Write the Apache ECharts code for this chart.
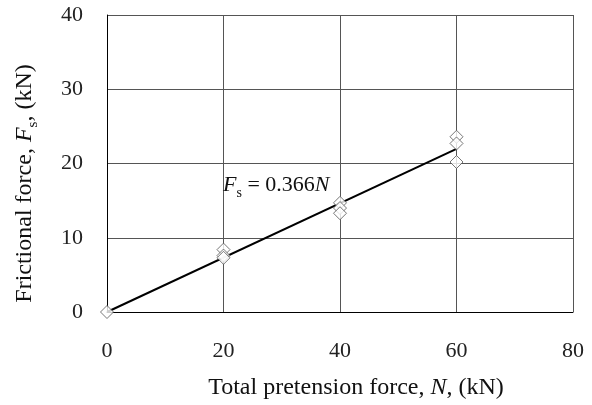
<!DOCTYPE html>
<html>
<head>
<meta charset="utf-8">
<script src="https://cdn.jsdelivr.net/npm/echarts@6/dist/echarts.min.js"></script>
<style>
html, body { margin: 0; padding: 0; background: #fff; }
#chart { width: 592px; height: 405px; }
</style>
</head>
<body>
<div id="chart"></div>
<script>
// measured points (pretension N, friction Fs), kN
var pretension = [0, 20, 20, 20, 40, 40, 40, 60, 60, 60];
var friction = [0, 8.4, 7.6, 7.3, 14.7, 14.0, 13.3, 23.6, 22.7, 20.2];
// fitted line Fs = 0.366 N
var slope = 0.366;
var fitX = [0, 60];
var xTicks = [0, 20, 40, 60, 80];
var yTicks = [0, 10, 20, 30, 40];

var serif = '"Liberation Serif", "DejaVu Serif", serif';

var chart = echarts.init(document.getElementById('chart'));
var option = {
    animation: false,
    grid: {
        left: 107,
        right: 19,
        top: 15,
        bottom: 92
    },
    xAxis: {
        type: 'value',
        min: xTicks[0],
        max: xTicks[xTicks.length - 1],
        interval: 20,
        name: '{n|Total pretension force, }{i|N}{n|, (kN)}',
        nameLocation: 'middle',
        nameGap: 64,
        nameTextStyle: {
            padding: [0, 0, 0, 32],
            rich: {
                n: { fontFamily: serif, fontSize: 24, color: '#111' },
                i: { fontFamily: serif, fontSize: 24, color: '#111', fontStyle: 'italic' }
            }
        },
        axisLine: { show: true, lineStyle: { color: '#000', width: 1 } },
        axisTick: { show: false },
        axisLabel: { fontFamily: serif, fontSize: 22, color: '#222', margin: 28 },
        splitLine: { show: true, lineStyle: { color: '#555', width: 1 } }
    },
    yAxis: {
        type: 'value',
        min: yTicks[0],
        max: yTicks[yTicks.length - 1],
        interval: 10,
        name: '{n|Frictional force, }{i|F}{s|s}{n|, (kN)}',
        nameLocation: 'middle',
        nameGap: 70,
        nameTextStyle: {
            padding: [0, 40, 0, 0],
            rich: {
                n: { fontFamily: serif, fontSize: 24, color: '#111' },
                i: { fontFamily: serif, fontSize: 24, color: '#111', fontStyle: 'italic' },
                s: { fontFamily: serif, fontSize: 15, color: '#111', verticalAlign: 'bottom', padding: [0, 0, -4, 0] }
            }
        },
        axisLine: { show: true, lineStyle: { color: '#000', width: 1 } },
        axisTick: { show: false },
        axisLabel: { fontFamily: serif, fontSize: 22, color: '#222', margin: 24 },
        splitLine: { show: true, lineStyle: { color: '#555', width: 1 } }
    },
    graphic: [{
        type: 'text',
        left: 223,
        top: 174,
        style: {
            text: '{i|F}{s|s}{n| = 0.366}{i|N}',
            rich: {
                n: { fontFamily: serif, fontSize: 22, fill: '#111' },
                i: { fontFamily: serif, fontSize: 22, fill: '#111', fontStyle: 'italic' },
                s: { fontFamily: serif, fontSize: 14, fill: '#111', verticalAlign: 'bottom', padding: [0, 0, -4, 0] }
            }
        },
        z: 10
    }],
    series: [
        {
            name: 'fit',
            type: 'line',
            data: fitX.map(function (x) { return [x, slope * x]; }),
            symbol: 'none',
            lineStyle: { color: '#000', width: 2 },
            z: 2
        },
        {
            name: 'test',
            type: 'scatter',
            data: pretension.map(function (x, i) { return [x, friction[i]]; }),
            symbol: 'diamond',
            symbolSize: [13, 13],
            itemStyle: { color: '#fff', borderColor: '#555', borderWidth: 1 },
            z: 3
        }
    ]
};
chart.setOption(option);
</script>
</body>
</html>
